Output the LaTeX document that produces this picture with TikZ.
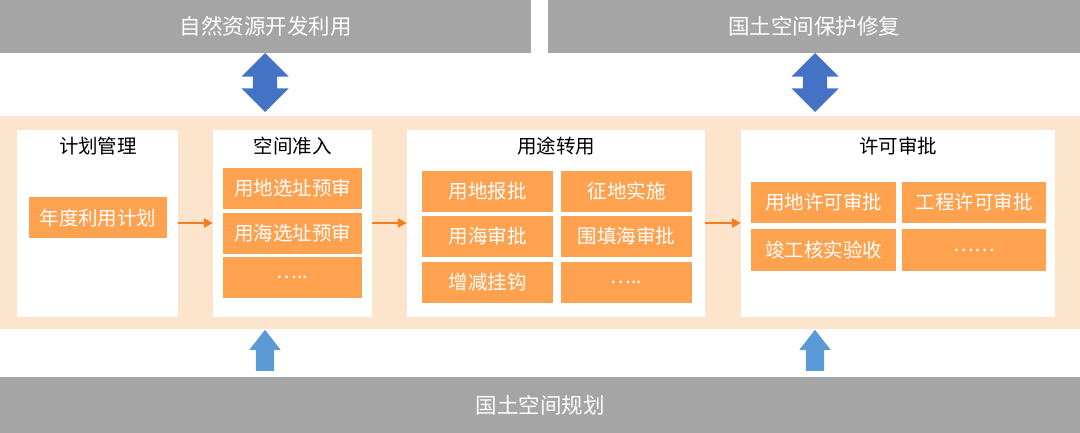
\documentclass[tikz,border=0pt]{standalone}
\usepackage{fontspec}
\setmainfont{Noto Sans CJK SC}
\usetikzlibrary{positioning,shapes.arrows,arrows.meta}
\definecolor{bargray}{RGB}{165,165,165}
\definecolor{bandorange}{RGB}{253,228,204}
\definecolor{itemorange}{RGB}{255,162,80}
\definecolor{linkorange}{RGB}{245,125,30}
\definecolor{darkblue}{RGB}{68,114,196}
\definecolor{lightblue}{RGB}{91,155,213}
\tikzset{
  graybar/.style={fill=bargray, text=white, inner sep=0pt, font=\fontsize{21.5}{25}\selectfont},
  stagebox/.style={fill=white, inner sep=0pt, minimum height=187pt},
  stagetitle/.style={inner sep=0pt, font=\fontsize{19.5}{23}\selectfont},
  itembox/.style={fill=itemorange, text=white, inner sep=0pt, minimum height=41pt, font=\fontsize{19.5}{23}\selectfont},
  link/.style={linkorange, line width=2.5pt, -{Triangle[length=9pt,width=9pt]}},
  twoway/.style={double arrow, fill=darkblue, rotate=90, inner xsep=0pt, inner ysep=12pt, minimum height=59pt, minimum width=47pt, double arrow head extend=11.5pt, double arrow tip angle=90},
  oneway/.style={single arrow, fill=lightblue, rotate=90, anchor=tail, inner xsep=0pt, inner ysep=9pt, minimum height=41pt, minimum width=31pt, single arrow head extend=6.5pt, single arrow tip angle=76}
}
\begin{document}
\begin{tikzpicture}[x=1pt, y=-1pt]
  \useasboundingbox (0,0) rectangle (1080,433);
  % top and bottom bars
  \node[graybar, minimum width=531pt, minimum height=53pt] (use) at (265.5,26.5) {自然资源开发利用};
  \node[graybar, minimum width=532pt, minimum height=53pt] (protect) at (814,26.5) {国土空间保护修复};
  \node[graybar, minimum width=1080pt, minimum height=56pt] (plan) at (540,405) {国土空间规划};
  % orange band
  \node[fill=bandorange, inner sep=0pt, minimum width=1080pt, minimum height=213pt] (band) at (540,222.5) {};
  % stage boxes
  \node[stagebox, minimum width=161pt] (mgmt) at (97.5,223.5) {};
  \node[stagebox, minimum width=159pt] (access) at (292.5,223.5) {};
  \node[stagebox, minimum width=298pt] (convert) at (556,223.5) {};
  \node[stagebox, minimum width=314pt] (permit) at (898,223.5) {};
  \node[stagetitle] (mgmtt) at (98,146) {计划管理};
  \node[stagetitle] (accesst) at (292.5,146) {空间准入};
  \node[stagetitle] (convertt) at (556,146) {用途转用};
  \node[stagetitle] (permitt) at (898,146) {许可审批};
  % items
  \node[itembox, minimum width=138pt] (m1) at (98,218) {年度利用计划};
  \node[itembox, minimum width=139pt] (a1) at (292.5,188.5) {用地选址预审};
  \node[itembox, minimum width=139pt] (a2) at (292.5,233.5) {用海选址预审};
  \node[itembox, minimum width=139pt] (a3) at (292.5,277.5) {…..};
  \node[itembox, minimum width=131pt] (c1) at (487.5,191.5) {用地报批};
  \node[itembox, minimum width=131pt] (c2) at (487.5,236.5) {用海审批};
  \node[itembox, minimum width=131pt] (c3) at (487.5,282.5) {增减挂钩};
  \node[itembox, minimum width=131pt] (c4) at (626.5,191.5) {征地实施};
  \node[itembox, minimum width=131pt] (c5) at (626.5,236.5) {围填海审批};
  \node[itembox, minimum width=131pt] (c6) at (626.5,282.5) {…..};
  \node[itembox, minimum width=145pt] (p1) at (823.5,202.5) {用地许可审批};
  \node[itembox, minimum width=144pt] (p2) at (974,202.5) {工程许可审批};
  \node[itembox, minimum width=145pt] (p3) at (823.5,250) {竣工核实验收};
  \node[itembox, minimum width=144pt] (p4) at (974,250) {……};
  % flow between stages
  \draw[link] (mgmt.east |- 0,223) -- (access.west |- 0,223);
  \draw[link] (access.east |- 0,223) -- (convert.west |- 0,223);
  \draw[link] (convert.east |- 0,223) -- (permit.west |- 0,223);
  % blue arrows
  \node[twoway] (upleft) at (265,82.5) {};
  \node[twoway] (upright) at (815,82.5) {};
  \node[oneway] (lowleft) at (265,371) {};
  \node[oneway] (lowright) at (815,371) {};
\end{tikzpicture}
\end{document}
